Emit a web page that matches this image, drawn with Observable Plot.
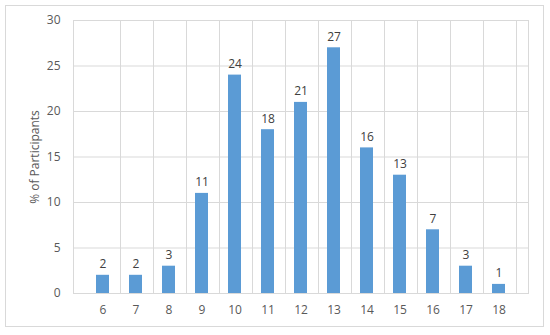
<!DOCTYPE html>
<html><head><meta charset="utf-8">
<script src="https://cdn.jsdelivr.net/npm/d3@7"></script>
<script src="https://cdn.jsdelivr.net/npm/@observablehq/plot@0.6"></script>
<style>
body{margin:0;background:#fff;}
#wrap{position:relative;width:550px;height:335px;}
#border{position:absolute;left:5px;top:5px;width:539px;height:322px;border:1px solid #d9d9d9;box-sizing:border-box;}
#chart{position:absolute;left:0;top:0;}
</style></head>
<body><div id="wrap"><div id="border"></div><div id="chart"></div></div>
<script>
const categories = ["6","7","8","9","10","11","12","13","14","15","16","17","18"];
const values = [2,2,3,11,24,18,21,27,16,13,7,3,1];
const yTicks = [0,5,10,15,20,25,30];
const yLabel = "% of Participants";
const data = categories.map((c,i)=>({c, v: values[i]}));
const font = "'Open Sans', sans-serif";
const plot = Plot.plot({
  width: 550, height: 335,
  marginLeft: 73, marginRight: 22, marginTop: 20, marginBottom: 42,
  style: {fontFamily: font, fontSize: "12px", color: "#595959", background: "transparent"},
  x: {domain: categories, padding: 0.6, label: null, tickSize: 0, tickPadding: 12},
  y: {domain: [0,30], ticks: yTicks, label: null, tickSize: 0, tickPadding: 13},
  marks: [
    Plot.gridY(yTicks, {stroke: "#d9d9d9", strokeOpacity: 1}),
    Plot.ruleX(categories, {stroke: "#d9d9d9", dx: 17.5}),
    Plot.frame({stroke: "#d9d9d9"}),
    Plot.barY(data, {x: "c", y: "v", fill: "#5b9bd5"}),
    Plot.text(data, {x: "c", y: "v", text: d => String(d.v), dy: -11, fill: "#404040", fontSize: 12}),
    Plot.axisX({tickSize: 0, tickPadding: 12, fontSize: 12}),
    Plot.axisY({ticks: yTicks, tickSize: 0, tickPadding: 13, fontSize: 12}),
    Plot.text([yLabel], {frameAnchor: "left", textAnchor: "middle", text: d => d, rotate: -90, dx: -38, fontSize: 12, fill: "#595959"})
  ]
});
document.getElementById("chart").appendChild(plot);
</script></body></html>
